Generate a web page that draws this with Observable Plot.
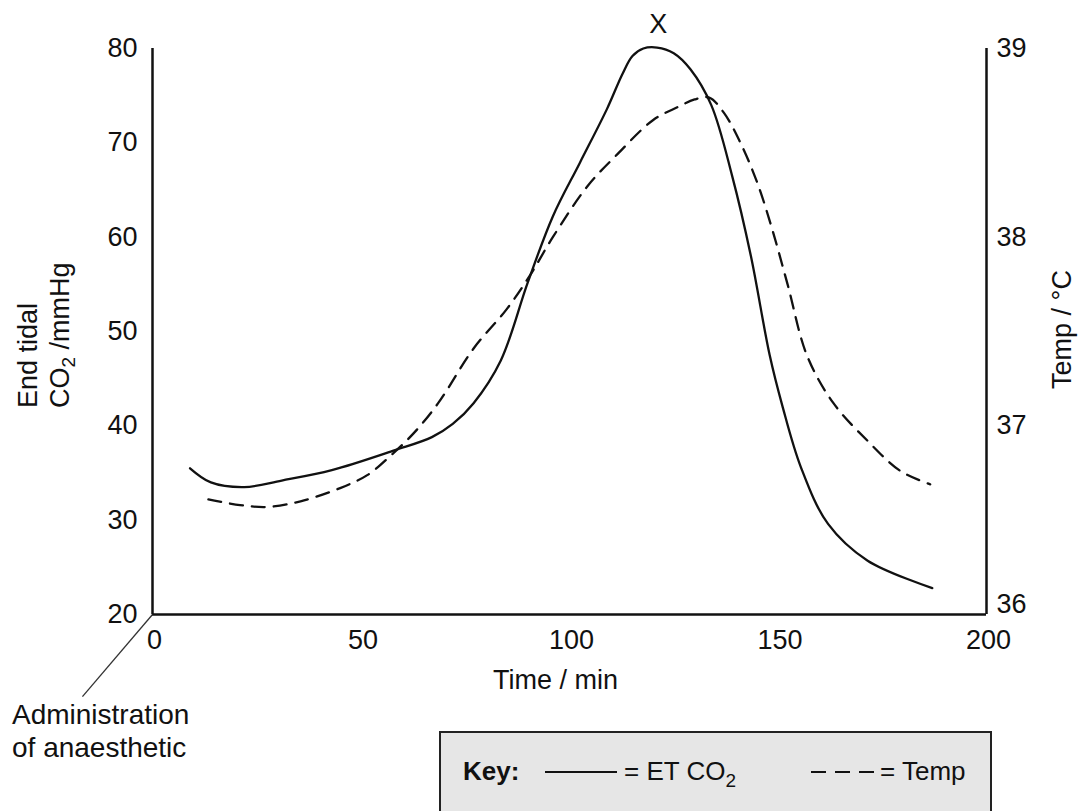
<!DOCTYPE html>
<html>
<head>
<meta charset="utf-8">
<script src="https://cdn.jsdelivr.net/npm/d3@7"></script>
<script src="https://cdn.jsdelivr.net/npm/@observablehq/plot@0.6"></script>
<style>
  html, body { margin: 0; padding: 0; background: #fff; }
  #wrap { position: relative; width: 1086px; height: 811px; overflow: hidden; font-family: "Liberation Sans", Arial, sans-serif; color: #111; }
  #ylab { position: absolute; left: 12px; top: 408px; transform-origin: left top; transform: rotate(-90deg); font-size: 27px; line-height: 32px; white-space: nowrap; }
  #ylab sub { font-size: 19px; line-height: 0; vertical-align: -6px; }
  #admin { position: absolute; left: 12px; top: 698px; font-size: 28px; line-height: 33px; white-space: nowrap; }
  #key { position: absolute; left: 439px; top: 731px; }
</style>
</head>
<body>
<div id="wrap">
  <div id="chart"></div>
  <div id="ylab">End tidal<br>CO<sub>2</sub> /mmHg</div>
  <div id="admin">Administration<br>of anaesthetic</div>
  <svg id="key" width="560" height="90" xmlns="http://www.w3.org/2000/svg" font-family="Liberation Sans, Arial, sans-serif" fill="#111">
    <rect x="1" y="1" width="551" height="120" fill="#e6e6e6" stroke="#222" stroke-width="2"></rect>
    <text x="24" y="49" font-size="26" font-weight="bold">Key:</text>
    <line x1="106" x2="178" y1="41" y2="41" stroke="#111" stroke-width="2"></line>
    <text x="185" y="49" font-size="26">= ET CO<tspan dy="7" font-size="19">2</tspan></text>
    <line x1="372" x2="441" y1="41" y2="41" stroke="#111" stroke-width="2" stroke-dasharray="15,9"></line>
    <text x="441" y="49" font-size="26">= Temp</text>
  </svg>
</div>
<script>
// End tidal CO2 (mmHg) vs time (min)
const timeCO2 = [9, 14, 22, 31, 43, 58, 67, 72, 77, 83.5, 90, 96, 102.5, 109, 112.7, 115.1, 117.7, 121, 125, 129, 134, 139, 143.5, 148, 151, 155.5, 162, 171.5, 187];
const co2     = [35.5, 34.0, 33.5, 34.2, 35.3, 37.4, 38.8, 40.2, 42.4, 46.9, 55.2, 62.2, 67.9, 73.6, 77.3, 79.2, 80.0, 80.1, 79.5, 77.8, 74.0, 66.5, 58.0, 47.5, 42.2, 35.6, 29.6, 25.7, 22.8];

// Temperature (°C) vs time (min)
const timeTemp = [13.4, 21, 27.6, 35.5, 45, 51.6, 57, 62.6, 68.5, 77, 85, 90.6, 96, 104.3, 111.5, 120, 126, 130, 133.5, 137, 141, 145, 148.5, 152.3, 157, 163.3, 171.5, 179.4, 186.5];
const temp     = [36.61, 36.58, 36.57, 36.60, 36.67, 36.74, 36.84, 36.96, 37.12, 37.41, 37.62, 37.80, 38.0, 38.27, 38.44, 38.62, 38.69, 38.73, 38.74, 38.66, 38.50, 38.29, 38.05, 37.75, 37.37, 37.12, 36.92, 36.76, 36.69];

// Axis ticks
const xTicks = [0, 50, 100, 150, 200];
const yTicks = [20, 30, 40, 50, 60, 70, 80];
const tempTicks = [37, 38, 39];
const tempBottom = [36];

// Annotations
const peakLabel = [{t: 121.3, v: 80, text: "X"}];
const adminLink = [{t1: 0, v1: 20, t2: -16.8, v2: 11.3}];

// temperature -> CO2 axis mapping (36..39 °C  <->  20..80 mmHg)
const tToY = (t) => 20 + (t - 36) * 20;

const co2Data = timeCO2.map((t, i) => ({t, v: co2[i]}));
const tempData = timeTemp.map((t, i) => ({t, v: temp[i]}));

const chart = Plot.plot({
  width: 1086,
  height: 811,
  marginLeft: 152,
  marginRight: 100,
  marginTop: 48,
  marginBottom: 197,
  x: {domain: [0, 200]},
  y: {domain: [20, 80]},
  style: {fontFamily: "'Liberation Sans', Arial, sans-serif", fontSize: "27px", color: "#111", background: "transparent"},
  marks: [
    Plot.axisX({ticks: xTicks, tickSize: 0, tickPadding: 15, dx: 2, label: null}),
    Plot.axisY({ticks: yTicks, tickSize: 0, tickPadding: 15, label: null}),
    Plot.axisY({anchor: "right", ticks: tempTicks.map(tToY), tickFormat: (d) => String(36 + (d - 20) / 20), tickSize: 0, tickPadding: 10, label: null}),
    Plot.text(tempBottom, {x: () => 200, y: (d) => tToY(d), text: (d) => String(d), textAnchor: "start", dx: 10, dy: -10}),
    Plot.ruleX([0, 200], {y1: 20, y2: 80, stroke: "#111", strokeWidth: 2.5}),
    Plot.ruleY([20], {x1: 0, x2: 200, stroke: "#111", strokeWidth: 2.5}),
    Plot.link(adminLink, {x1: "t1", y1: "v1", x2: "t2", y2: "v2", stroke: "#333", strokeWidth: 1.3}),
    Plot.line(co2Data, {x: "t", y: "v", curve: "catmull-rom", stroke: "#111", strokeWidth: 2.3}),
    Plot.line(tempData, {x: "t", y: (d) => tToY(d.v), curve: "catmull-rom", stroke: "#111", strokeWidth: 2.3, strokeDasharray: "13,9"}),
    Plot.text(peakLabel, {x: "t", y: "v", text: "text", dy: -24, fontSize: 27}),
    Plot.text(["Time / min"], {frameAnchor: "bottom", textAnchor: "middle", dx: -14, dy: 74, fontSize: 27}),
    Plot.text(["Temp / °C"], {frameAnchor: "right", textAnchor: "middle", dx: 76, dy: -2, rotate: -90, fontSize: 27})
  ]
});
document.getElementById("chart").appendChild(chart);
</script>
</body>
</html>
